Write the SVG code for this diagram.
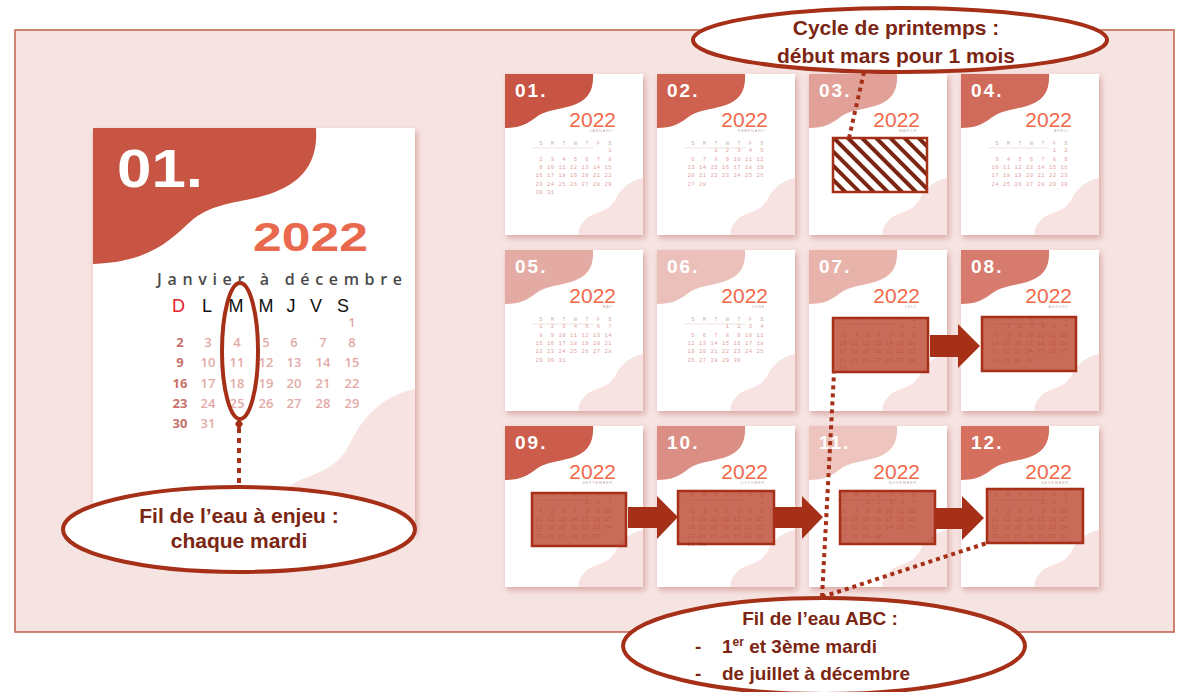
<svg xmlns="http://www.w3.org/2000/svg" width="1180" height="692" viewBox="0 0 1180 692">
<style>
.ell{fill:#fff;stroke:#A52F17;stroke-width:4}
.et{font-family:"Liberation Sans",Arial,sans-serif;font-weight:bold;fill:#7B2613;text-anchor:middle;font-size:21px}
.ec{font-family:"Liberation Sans",Arial,sans-serif;font-weight:bold;fill:#7B2613;font-size:19px}
.dot{fill:none;stroke:#A52F17;stroke-width:4;stroke-dasharray:4 4}
.box{fill:#B53A22;fill-opacity:.75;stroke:#A52F17;stroke-width:2.5}
.arr{fill:#A52F17}
.lbl{font-family:"Liberation Sans",Arial,sans-serif;font-weight:bold;fill:#fff;font-size:19px;letter-spacing:2px}
.yr{font-family:"Liberation Sans",Arial,sans-serif;font-size:21px;fill:#F06A4A;text-anchor:end}
.mn{font-family:"Liberation Sans",Arial,sans-serif;font-size:3.5px;letter-spacing:1px;fill:#B9A3A0;text-anchor:end}
.g{font-family:"Liberation Mono",monospace;font-size:5.5px;letter-spacing:0.533px;fill:#E0A39E;white-space:pre}
.hd{fill:#D2B0AD}
.bn{font-family:"Open Sans","Liberation Sans",sans-serif;font-size:13px;font-weight:600;text-anchor:middle;fill:#E3ABA7}
.bn0{fill:#C9716C;font-weight:700}
.dl{font-family:"Liberation Sans",Arial,sans-serif;font-size:18px;fill:#111;text-anchor:middle}
</style>
<defs>
<filter id="sh" x="-10%" y="-10%" width="125%" height="125%"><feDropShadow dx="2" dy="3" stdDeviation="3" flood-color="#C0706A" flood-opacity="0.55"/></filter>
<pattern id="hatch" width="10" height="10" patternUnits="userSpaceOnUse" patternTransform="rotate(-45)"><rect width="10" height="10" fill="#fff"/><rect width="4" height="10" fill="#7B2613"/></pattern>
<path id="blob" d="M0,0 H88 C89,18 82,27 66,32 C52,36 40,36 30,44 C22,50 15,54 0,54 Z"/>
<path id="wave" d="M138,104 C126,106 116,114 110,126 C104,138 90,138 82,144 C76,149 73,155 73,161 H138 Z" fill="#F7E3E1"/>
<g id="page" xml:space="preserve">
<rect width="138" height="161" fill="#fff" filter="url(#sh)"/>
<use href="#wave"/>
<line x1="28" y1="74" x2="88" y2="74" stroke="#E6CFCC" stroke-width="0.6"/>
<text class="g hd" x="26.6" y="71">  S  M  T  W  T  F  S</text>
</g>
<g id="c_sat31" xml:space="preserve">
<text class="g" x="26.6" y="78">                    1</text>
<text class="g" x="26.6" y="86.5">  2  3  4  5  6  7  8</text>
<text class="g" x="26.6" y="95">  9 10 11 12 13 14 15</text>
<text class="g" x="26.6" y="103.3"> 16 17 18 19 20 21 22</text>
<text class="g" x="26.6" y="111.6"> 23 24 25 26 27 28 29</text>
<text class="g" x="26.6" y="120"> 30 31</text>
</g>
<g id="c_tue" xml:space="preserve">
<text class="g" x="26.6" y="78">        1  2  3  4  5</text>
<text class="g" x="26.6" y="86.5">  6  7  8  9 10 11 12</text>
<text class="g" x="26.6" y="95"> 13 14 15 16 17 18 19</text>
<text class="g" x="26.6" y="103.3"> 20 21 22 23 24 25 26</text>
</g>
<g id="c_fri30" xml:space="preserve">
<text class="g" x="26.6" y="78">                 1  2</text>
<text class="g" x="26.6" y="86.5">  3  4  5  6  7  8  9</text>
<text class="g" x="26.6" y="95"> 10 11 12 13 14 15 16</text>
<text class="g" x="26.6" y="103.3"> 17 18 19 20 21 22 23</text>
<text class="g" x="26.6" y="111.6"> 24 25 26 27 28 29 30</text>
</g>
<g id="c_sun31" xml:space="preserve">
<text class="g" x="26.6" y="78">  1  2  3  4  5  6  7</text>
<text class="g" x="26.6" y="86.5">  8  9 10 11 12 13 14</text>
<text class="g" x="26.6" y="95"> 15 16 17 18 19 20 21</text>
<text class="g" x="26.6" y="103.3"> 22 23 24 25 26 27 28</text>
<text class="g" x="26.6" y="111.6"> 29 30 31</text>
</g>
<g id="c_wed30" xml:space="preserve">
<text class="g" x="26.6" y="78">           1  2  3  4</text>
<text class="g" x="26.6" y="86.5">  5  6  7  8  9 10 11</text>
<text class="g" x="26.6" y="95"> 12 13 14 15 16 17 18</text>
<text class="g" x="26.6" y="103.3"> 19 20 21 22 23 24 25</text>
<text class="g" x="26.6" y="111.6"> 26 27 28 29 30</text>
</g>
<g id="c_mon31" xml:space="preserve">
<text class="g" x="26.6" y="78">     1  2  3  4  5  6</text>
<text class="g" x="26.6" y="86.5">  7  8  9 10 11 12 13</text>
<text class="g" x="26.6" y="95"> 14 15 16 17 18 19 20</text>
<text class="g" x="26.6" y="103.3"> 21 22 23 24 25 26 27</text>
<text class="g" x="26.6" y="111.6"> 28 29 30 31</text>
</g>
<g id="c_thu" xml:space="preserve">
<text class="g" x="26.6" y="78">              1  2  3</text>
<text class="g" x="26.6" y="86.5">  4  5  6  7  8  9 10</text>
<text class="g" x="26.6" y="95"> 11 12 13 14 15 16 17</text>
<text class="g" x="26.6" y="103.3"> 18 19 20 21 22 23 24</text>
</g>
</defs>

<rect id="panel" x="15" y="30" width="1159" height="602" fill="#F6E4E2" stroke="#BF5F4A" stroke-width="1.5"/>

<g id="big-calendar">
<rect x="93" y="128" width="322" height="404" fill="#fff" filter="url(#sh)"/>
<use href="#wave" transform="translate(93,128) scale(2.333,2.509)"/>
<path d="M93,128 H316 C318,160 305,180 275,192 C245,204 215,200 190,222 C170,240 150,262 93,264 Z" fill="#C85543"/>
<text x="117" y="187" font-family="Liberation Sans, Arial, sans-serif" font-weight="bold" font-size="54" fill="#fff" textLength="86" lengthAdjust="spacingAndGlyphs">01.</text>
<text x="253" y="251" font-family="Liberation Sans, Arial, sans-serif" font-weight="bold" font-size="41" fill="#E8694D" textLength="115" lengthAdjust="spacingAndGlyphs">2022</text>
<text x="157" y="285" font-family="Open Sans, Liberation Sans, sans-serif" font-weight="600" font-size="16" fill="#4A4A4A" textLength="245" lengthAdjust="spacing">Janvier à décembre</text>
<text class="dl" x="178.5" y="312" style="fill:#E8202A">D</text>
<text class="dl" x="207" y="312">L</text>
<text class="dl" x="236" y="312">M</text>
<text class="dl" x="266" y="312">M</text>
<text class="dl" x="291" y="312">J</text>
<text class="dl" x="316" y="312">V</text>
<text class="dl" x="343" y="312">S</text>
<text class="bn" x="352" y="327">1</text>
<text class="bn bn0" x="180" y="347">2</text><text class="bn" x="208" y="347">3</text><text class="bn" x="237" y="347">4</text><text class="bn" x="266" y="347">5</text><text class="bn" x="294" y="347">6</text><text class="bn" x="323" y="347">7</text><text class="bn" x="352" y="347">8</text>
<text class="bn bn0" x="180" y="367">9</text><text class="bn" x="208" y="367">10</text><text class="bn" x="237" y="367">11</text><text class="bn" x="266" y="367">12</text><text class="bn" x="294" y="367">13</text><text class="bn" x="323" y="367">14</text><text class="bn" x="352" y="367">15</text>
<text class="bn bn0" x="180" y="388">16</text><text class="bn" x="208" y="388">17</text><text class="bn" x="237" y="388">18</text><text class="bn" x="266" y="388">19</text><text class="bn" x="294" y="388">20</text><text class="bn" x="323" y="388">21</text><text class="bn" x="352" y="388">22</text>
<text class="bn bn0" x="180" y="408">23</text><text class="bn" x="208" y="408">24</text><text class="bn" x="237" y="408">25</text><text class="bn" x="266" y="408">26</text><text class="bn" x="294" y="408">27</text><text class="bn" x="323" y="408">28</text><text class="bn" x="352" y="408">29</text>
<text class="bn bn0" x="180" y="428">30</text><text class="bn" x="208" y="428">31</text>
</g>

<g id="m01" transform="translate(505,74)"><use href="#page"/><use href="#blob" fill="#C85543"/><text class="lbl" x="10" y="23">01.</text><text class="yr" x="111" y="53">2022</text><text class="mn" x="108" y="58">JANUARY</text><use href="#c_sat31"/></g>
<g id="m02" transform="translate(657,74)"><use href="#page"/><use href="#blob" fill="#CE6150"/><text class="lbl" x="10" y="23">02.</text><text class="yr" x="111" y="53">2022</text><text class="mn" x="108" y="58">FEBRUARY</text><use href="#c_tue"/><text class="g" x="26.6" y="111.6" xml:space="preserve"> 27 28</text></g>
<g id="m03" transform="translate(809,74)"><use href="#page"/><use href="#blob" fill="#E2A198"/><text class="lbl" x="10" y="23">03.</text><text class="yr" x="111" y="53">2022</text><text class="mn" x="108" y="58">MARCH</text><use href="#c_tue"/><text class="g" x="26.6" y="111.6" xml:space="preserve"> 27 28 29 30 31</text></g>
<g id="m04" transform="translate(961,74)"><use href="#page"/><use href="#blob" fill="#D06A5A"/><text class="lbl" x="10" y="23">04.</text><text class="yr" x="111" y="53">2022</text><text class="mn" x="108" y="58">APRIL</text><use href="#c_fri30"/></g>
<g id="m05" transform="translate(505,250)"><use href="#page"/><use href="#blob" fill="#E3ABA3"/><text class="lbl" x="10" y="23">05.</text><text class="yr" x="111" y="53">2022</text><text class="mn" x="108" y="58">MAY</text><use href="#c_sun31"/></g>
<g id="m06" transform="translate(657,250)"><use href="#page"/><use href="#blob" fill="#EBC0BA"/><text class="lbl" x="10" y="23">06.</text><text class="yr" x="111" y="53">2022</text><text class="mn" x="108" y="58">JUNE</text><use href="#c_wed30"/></g>
<g id="m07" transform="translate(809,250)"><use href="#page"/><use href="#blob" fill="#E8B3AB"/><text class="lbl" x="10" y="23">07.</text><text class="yr" x="111" y="53">2022</text><text class="mn" x="108" y="58">JULY</text><use href="#c_fri30"/><text class="g" x="26.6" y="120" xml:space="preserve"> 31</text></g>
<g id="m08" transform="translate(961,250)"><use href="#page"/><use href="#blob" fill="#D67B6D"/><text class="lbl" x="10" y="23">08.</text><text class="yr" x="111" y="53">2022</text><text class="mn" x="108" y="58">AUGUST</text><use href="#c_mon31"/></g>
<g id="m09" transform="translate(505,426)"><use href="#page"/><use href="#blob" fill="#CC5D4D"/><text class="lbl" x="10" y="23">09.</text><text class="yr" x="111" y="53">2022</text><text class="mn" x="108" y="58">SEPTEMBER</text><use href="#c_thu"/><text class="g" x="26.6" y="111.6" xml:space="preserve"> 25 26 27 28 29 30</text></g>
<g id="m10" transform="translate(657,426)"><use href="#page"/><use href="#blob" fill="#DB8E84"/><text class="lbl" x="10" y="23">10.</text><text class="yr" x="111" y="53">2022</text><text class="mn" x="108" y="58">OCTOBER</text><use href="#c_sat31"/></g>
<g id="m11" transform="translate(809,426)"><use href="#page"/><use href="#blob" fill="#EDC4BE"/><text class="lbl" x="10" y="23">11.</text><text class="yr" x="111" y="53">2022</text><text class="mn" x="108" y="58">NOVEMBER</text><use href="#c_tue"/><text class="g" x="26.6" y="111.6" xml:space="preserve"> 27 28 29 30</text></g>
<g id="m12" transform="translate(961,426)"><use href="#page"/><use href="#blob" fill="#D5705F"/><text class="lbl" x="10" y="23">12.</text><text class="yr" x="111" y="53">2022</text><text class="mn" x="108" y="58">DECEMBER</text><use href="#c_thu"/><text class="g" x="26.6" y="111.6" xml:space="preserve"> 25 26 27 28 29 30 31</text></g>

<g id="highlights">
<ellipse cx="240" cy="351" rx="18" ry="68" fill="none" stroke="#A52F17" stroke-width="4"/>
<rect x="833" y="138" width="94" height="54" fill="url(#hatch)" stroke="#A52F17" stroke-width="2.5"/>
<rect class="box" x="833" y="318" width="95" height="54"/>
<rect class="box" x="982" y="317" width="94" height="54"/>
<rect class="box" x="532" y="493" width="94" height="53"/>
<rect class="box" x="678" y="491" width="96" height="53"/>
<rect class="box" x="840" y="491" width="95" height="53"/>
<rect class="box" x="987" y="489" width="96" height="54"/>
</g>

<g id="connectors">
<line class="dot" x1="239" y1="428" x2="239" y2="488" style="stroke-dasharray:5 5"/>
<polygon class="arr" points="239,418 243,424 239,430 235,424"/>
<line class="dot" x1="864" y1="72" x2="849" y2="138"/>
<line class="dot" x1="822" y1="597" x2="834" y2="373"/>
<line class="dot" x1="822" y1="597" x2="987" y2="543"/>
<polygon class="arr" points="930,335 958,335 958,324 980,346 958,368 958,357 930,357"/>
<polygon class="arr" points="628,507 657,507 657,496 678,517 657,539 657,528 628,528"/>
<polygon class="arr" points="774,507 802,507 802,496 823,517 802,539 802,528 774,528"/>
<polygon class="arr" points="935,508 962,508 962,496 984,518 962,540 962,529 935,529"/>
</g>

<g id="note-enjeu">
<ellipse class="ell" cx="239" cy="529.5" rx="176" ry="42.5"/>
<text class="et" x="239" y="523">Fil de l’eau à enjeu :</text>
<text class="et" x="239" y="548">chaque mardi</text>
</g>
<g id="note-printemps">
<ellipse class="ell" cx="900" cy="40" rx="207" ry="32"/>
<text class="et" x="896" y="35">Cycle de printemps :</text>
<text class="et" x="896" y="63">début mars pour 1 mois</text>
</g>
<g id="note-abc">
<ellipse class="ell" cx="824" cy="646" rx="201" ry="48"/>
<text class="ec" x="820" y="625" text-anchor="middle">Fil de l’eau ABC :</text>
<text class="ec" x="695" y="653" font-weight="normal">-</text>
<text class="ec" x="722" y="653">1<tspan font-size="12" dy="-7">er</tspan><tspan dy="7"> et 3ème mardi</tspan></text>
<text class="ec" x="695" y="680" font-weight="normal">-</text>
<text class="ec" x="722" y="680">de juillet à décembre</text>
</g>
</svg>
